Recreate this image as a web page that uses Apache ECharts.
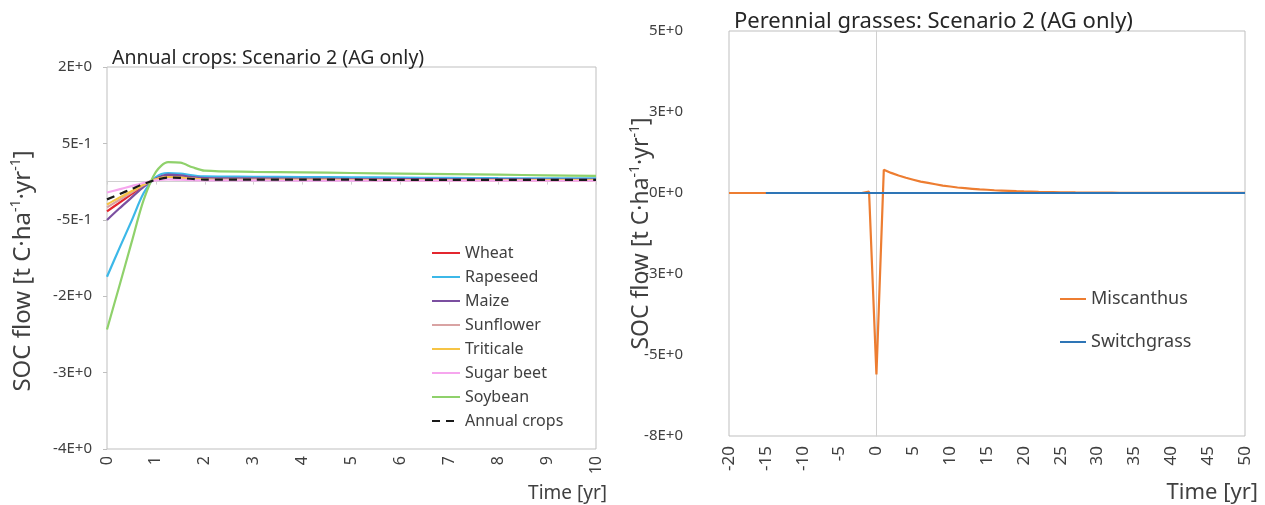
<!DOCTYPE html>
<html>
<head>
<meta charset="utf-8">
<script src="https://cdn.jsdelivr.net/npm/echarts@6/dist/echarts.min.js"></script>
<style>html,body{margin:0;padding:0;background:#fff}#c{width:1265px;height:505px}</style>
</head>
<body>
<div id="c"></div>
<script>
// ---------- Left chart: annual crops ----------
const cropTimes = [0, 0.25, 0.5, 0.75, 1, 1.25, 1.5, 1.75, 2, 3, 4, 5, 6, 7, 8, 9, 10];
const cropNames = ["Wheat", "Rapeseed", "Maize", "Sunflower", "Triticale", "Sugar beet", "Soybean", "Annual crops"];
const wheat      = [-0.52, -0.37, -0.22, -0.07, 0.05, 0.11, 0.10, 0.07, 0.05, 0.045, 0.04, 0.04, 0.035, 0.035, 0.03, 0.03, 0.03];
const rapeseed   = [-1.66, -1.17, -0.69, -0.20, 0.08, 0.15, 0.14, 0.11, 0.09, 0.085, 0.08, 0.075, 0.07, 0.065, 0.06, 0.058, 0.055];
const maize      = [-0.67, -0.47, -0.28, -0.09, 0.05, 0.12, 0.11, 0.08, 0.06, 0.055, 0.05, 0.045, 0.045, 0.04, 0.04, 0.035, 0.035];
const sunflower  = [-0.45, -0.32, -0.19, -0.06, 0.04, 0.08, 0.07, 0.05, 0.035, 0.03, 0.03, 0.03, 0.028, 0.027, 0.026, 0.025, 0.025];
const triticale  = [-0.40, -0.28, -0.17, -0.05, 0.04, 0.08, 0.07, 0.05, 0.035, 0.03, 0.03, 0.028, 0.027, 0.026, 0.025, 0.025, 0.024];
const sugarBeet  = [-0.19, -0.135, -0.08, -0.025, 0.02, 0.04, 0.035, 0.025, 0.02, 0.02, 0.018, 0.018, 0.017, 0.016, 0.016, 0.015, 0.015];
const soybean    = [-2.58, -1.83, -1.07, -0.32, 0.17, 0.34, 0.33, 0.25, 0.19, 0.17, 0.16, 0.15, 0.14, 0.13, 0.12, 0.11, 0.10];
const annualCrops= [-0.31, -0.22, -0.13, -0.04, 0.03, 0.07, 0.065, 0.045, 0.035, 0.035, 0.033, 0.033, 0.03, 0.03, 0.03, 0.03, 0.03];
const cropValues = [wheat, rapeseed, maize, sunflower, triticale, sugarBeet, soybean, annualCrops];
const cropColors = ["#e3262f", "#3cb8e8", "#7b4fa0", "#d9a3a3", "#f6c445", "#f6a6ee", "#8fd16b", "#1a1a1a"];

const yLeftTickValues = [2, 2/3, -2/3, -2, -10/3, -14/3];
const yLeftTickLabels = ["2E+0", "5E-1", "-5E-1", "-2E+0", "-3E+0", "-4E+0"];

// ---------- Right chart: perennial grasses ----------
const miscTimes = [];
for (let t = -20; t <= 50; t++) miscTimes.push(t);
const miscanthus = [
  0,0,0,0,0,0,0,0,0,0,            // -20 .. -11
  0,0,0,0,0,0,0,0,0,0.04,         // -10 .. -1
  -5.6,                            // 0
  0.72,0.62,0.54,0.47,0.41,0.35,0.31,0.27,0.23,0.20,   // 1..10
  0.17,0.15,0.13,0.11,0.10,0.085,0.075,0.065,0.055,0.048, // 11..20
  0.042,0.036,0.031,0.027,0.023,0.020,0.017,0.015,0.013,0.011, // 21..30
  0.010,0.009,0.008,0.007,0.006,0.005,0.005,0.004,0.004,0.003, // 31..40
  0.003,0.003,0.002,0.002,0.002,0.002,0.001,0.001,0.001,0.001  // 41..50
];
const switchTimes = [];
for (let t = -15; t <= 50; t++) switchTimes.push(t);
const switchgrass = switchTimes.map(() => 0);
const grassNames = ["Miscanthus", "Switchgrass"];
const grassColors = ["#ed7d31", "#2e75b6"];

const yRightTickValues = [-7.5, -5, -2.5, 0, 2.5, 5];
const yRightTickLabels = ["-8E+0", "-5E+0", "-3E+0", "0E+0", "3E+0", "5E+0"];

const FONT = "Noto Sans";
const LABEL_COLOR = "#404040";
const BORDER = "#bfbfbf";

function mapLabel(vals, labels) {
  return function (v) {
    for (let i = 0; i < vals.length; i++) if (Math.abs(vals[i] - v) < 1e-6) return labels[i];
    return "";
  };
}
function zip(xs, ys) { return xs.map((x, i) => [x, ys[i]]); }

function yNameStyle(size, padding) {
  return {
    fontSize: size, color: LABEL_COLOR, fontFamily: FONT, lineHeight: size + 4, padding: padding,
    rich: { sup: { fontSize: Math.round(size * 0.6), fontFamily: FONT, color: LABEL_COLOR, verticalAlign: 'top', lineHeight: size + 4 } }
  };
}
const yName = "SOC flow [t C·ha{sup|-1}·yr{sup|-1}]";

const series = [];
cropNames.forEach((n, i) => {
  series.push({
    name: n, type: 'line', xAxisIndex: 0, yAxisIndex: 0,
    data: zip(cropTimes, cropValues[i]),
    smooth: 0.3, symbol: 'none',
    lineStyle: { color: cropColors[i], width: 2.2, type: i === 7 ? [8, 6] : 'solid' },
    itemStyle: { color: cropColors[i] },
    z: 3 + i
  });
});
series.push({
  name: grassNames[0], type: 'line', xAxisIndex: 2, yAxisIndex: 1,
  data: zip(miscTimes, miscanthus), symbol: 'none',
  lineStyle: { color: grassColors[0], width: 2.2 }, itemStyle: { color: grassColors[0] }, z: 3
});
series.push({
  name: grassNames[1], type: 'line', xAxisIndex: 2, yAxisIndex: 1,
  data: zip(switchTimes, switchgrass), symbol: 'none',
  lineStyle: { color: grassColors[1], width: 2.2 }, itemStyle: { color: grassColors[1] }, z: 4
});

const chart = echarts.init(document.getElementById('c'), null, { renderer: 'canvas' });
chart.setOption({
  animation: false,
  backgroundColor: '#fff',
  textStyle: { fontFamily: FONT },
  title: [
    { text: 'Annual crops: Scenario 2 (AG only)', left: 107, top: 43,
      textStyle: { fontFamily: FONT, fontSize: 19.5, fontWeight: 'normal', color: '#262626' } },
    { text: 'Perennial grasses: Scenario 2 (AG only)', left: 729, top: 6,
      textStyle: { fontFamily: FONT, fontSize: 22, fontWeight: 'normal', color: '#262626' } }
  ],
  grid: [
    { left: 107, top: 67, width: 489, height: 382, show: true, borderColor: BORDER, borderWidth: 1, containLabel: false },
    { left: 729, top: 31, width: 516, height: 405, show: true, borderColor: BORDER, borderWidth: 1, containLabel: false }
  ],
  legend: [
    { data: cropNames, orient: 'vertical', left: 426, top: 240, itemWidth: 28, itemHeight: 12, itemGap: 8,
      textStyle: { fontFamily: FONT, fontSize: 16, color: LABEL_COLOR }, itemStyle: { opacity: 0 } },
    { data: grassNames, orient: 'vertical', left: 1054, top: 285, itemWidth: 26, itemHeight: 12, itemGap: 25,
      textStyle: { fontFamily: FONT, fontSize: 18, color: LABEL_COLOR }, itemStyle: { opacity: 0 } }
  ],
  xAxis: [
    { gridIndex: 0, type: 'value', min: 0, max: 10, interval: 1, position: 'bottom',
      axisLine: { show: false, onZero: false }, axisTick: { show: false }, splitLine: { show: false },
      axisLabel: { rotate: 90, fontSize: 16, color: LABEL_COLOR, margin: 7, fontFamily: FONT } },
    { gridIndex: 0, type: 'value', min: 0, max: 10, interval: 1, position: 'bottom',
      axisLine: { show: true, onZero: true, lineStyle: { color: '#d0d0d0', width: 1 } },
      axisTick: { show: true, length: 3, lineStyle: { color: '#d0d0d0' } },
      axisLabel: { show: false }, splitLine: { show: false } },
    { gridIndex: 1, type: 'value', min: -20, max: 50, interval: 5, position: 'bottom',
      axisLine: { show: false, onZero: false }, axisTick: { show: false }, splitLine: { show: false },
      axisLabel: { rotate: 90, fontSize: 17, color: LABEL_COLOR, margin: 10, fontFamily: FONT } }
  ],
  yAxis: [
    { gridIndex: 0, type: 'value', min: -14/3, max: 2,
      name: yName, nameLocation: 'middle', nameRotate: 90, nameGap: 70,
      nameTextStyle: yNameStyle(24, [0, 26, 0, 0]),
      axisLine: { show: false, onZero: false },
      axisTick: { show: true, length: 4, customValues: yLeftTickValues, lineStyle: { color: BORDER } },
      axisLabel: { customValues: yLeftTickValues, formatter: mapLabel(yLeftTickValues, yLeftTickLabels),
        fontSize: 15, color: LABEL_COLOR, margin: 15, fontFamily: FONT },
      splitLine: { show: false } },
    { gridIndex: 1, type: 'value', min: -7.5, max: 5, interval: 2.5,
      name: yName, nameLocation: 'middle', nameRotate: 90, nameGap: 74, nameMoveOverlap: false,
      nameTextStyle: yNameStyle(23, [0, 0, 0, 0]),
      axisLine: { show: false, onZero: false },
      axisTick: { show: false },
      axisLabel: { formatter: mapLabel(yRightTickValues, yRightTickLabels),
        fontSize: 15, color: LABEL_COLOR, margin: 46, fontFamily: FONT },
      splitLine: { show: false } },
    { gridIndex: 1, type: 'value', min: -7.5, max: 5, interval: 2.5, position: 'left',
      axisLine: { show: true, onZero: true, lineStyle: { color: '#d0d0d0', width: 1 } },
      axisTick: { show: false }, axisLabel: { show: false }, splitLine: { show: false } }
  ],
  graphic: [
    { type: 'text', right: 1265 - 607, top: 484,
      style: { text: 'Time [yr]', fontSize: 19, fontFamily: FONT, fill: LABEL_COLOR } },
    { type: 'text', right: 1265 - 1258, top: 482,
      style: { text: 'Time [yr]', fontSize: 22, fontFamily: FONT, fill: LABEL_COLOR } }
  ],
  series: series
});
</script>
</body>
</html>
